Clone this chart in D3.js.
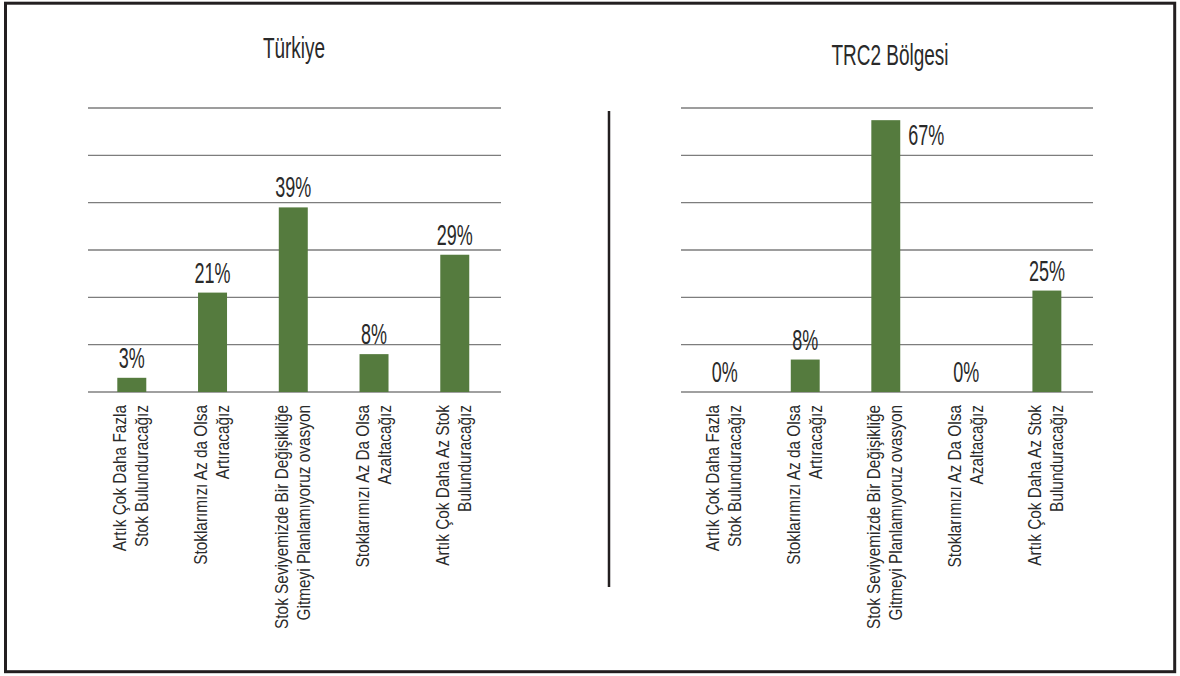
<!DOCTYPE html>
<html>
<head>
<meta charset="utf-8">
<script src="https://cdn.jsdelivr.net/npm/d3@7"></script>
<style>
  html, body { margin: 0; padding: 0; background: #ffffff; }
  svg { display: block; }
  text { font-family: "Liberation Sans", Arial, sans-serif; fill: #2a2a2a; }
</style>
</head>
<body>
<svg id="chart" width="1180" height="676"></svg>
<script>
// ---- data ----
const categoryLines = [
  ["Artık Çok Daha Fazla", "Stok Bulunduracağız"],
  ["Stoklarımızı Az da Olsa", "Artıracağız"],
  ["Stok Seviyemizde Bir Değişikliğe", "Gitmeyi Planlamıyoruz ovasyon"],
  ["Stoklarımızı Az Da Olsa", "Azaltacağız"],
  ["Artık Çok Daha Az Stok", "Bulunduracağız"]
];
const categories = categoryLines.map(l => l.join(" "));
const panelTitles = ["Türkiye", "TRC2 Bölgesi"];
const turkiyeValues = [3, 21, 39, 8, 29];
const trc2Values = [0, 8, 67, 0, 25];
const axisMax = [60, 70];
const gridCount = 6;

// ---- layout ----
const svg = d3.select("#chart");

svg.append("rect")
  .attr("x", 5.5).attr("y", 3.2)
  .attr("width", 1169.2).attr("height", 668.5)
  .attr("fill", "none").attr("stroke", "#231f20").attr("stroke-width", 3);

// divider
svg.append("line")
  .attr("x1", 609).attr("x2", 609)
  .attr("y1", 111).attr("y2", 587)
  .attr("stroke", "#231f20").attr("stroke-width", 2.5);

const panels = [
  { title: panelTitles[0], values: turkiyeValues, x0: 88, x1: 501, titleX: 294, titleY: 58, max: axisMax[0] },
  { title: panelTitles[1], values: trc2Values, x0: 681, x1: 1093, titleX: 890, titleY: 65, max: axisMax[1] }
];
const yTop = 108, yBase = 392;

function condensedText(sel, x, y, sx, size, anchor, str, rot) {
  return sel.append("text")
    .attr("transform", `translate(${x},${y})` + (rot ? ` rotate(${rot})` : "") + ` scale(${sx},1)`)
    .attr("font-size", size)
    .attr("text-anchor", anchor)
    .text(str);
}

panels.forEach(p => {
  const g = svg.append("g");
  const x = d3.scaleBand().domain(categories).range([p.x0, p.x1])
    .paddingInner(0.641).paddingOuter(0.378).align(0.48);
  const y = d3.scaleLinear().domain([0, p.max]).range([yBase, yTop]);

  // gridlines
  const gridVals = d3.range(gridCount + 1).map(i => p.max * i / gridCount);
  g.selectAll("line.grid").data(gridVals.slice(1)).join("line")
    .attr("class", "grid")
    .attr("x1", p.x0).attr("x2", p.x1)
    .attr("y1", d => y(d)).attr("y2", d => y(d))
    .attr("stroke", "#7d7d7d").attr("stroke-width", 1.4);
  // baseline
  g.append("line")
    .attr("x1", p.x0).attr("x2", p.x1)
    .attr("y1", y(0)).attr("y2", y(0))
    .attr("stroke", "#a0a0a0").attr("stroke-width", 2);

  // bars
  g.selectAll("rect.bar").data(p.values).join("rect")
    .attr("class", "bar")
    .attr("x", (d, i) => x(categories[i]))
    .attr("width", x.bandwidth())
    .attr("y", d => y(d))
    .attr("height", d => y(0) - y(d))
    .attr("fill", "#557b3e");

  // value labels
  p.values.forEach((v, i) => {
    const cx = x(categories[i]) + x.bandwidth() / 2;
    const top = y(v);
    const labelH = 22;
    if (top - 10 - labelH < yTop) {
      condensedText(g, x(categories[i]) + x.bandwidth() + 8, top + 25, 0.6, 30, "start", v + "%");
    } else {
      condensedText(g, cx, top - 10, 0.6, 30, "middle", v + "%");
    }
  });

  // category labels (rotated, two lines, right-aligned at top)
  categoryLines.forEach((lines, i) => {
    const cx = x(categories[i]) + x.bandwidth() / 2;
    lines.forEach((ln, j) => {
      condensedText(g, cx - 5.5 + j * 22, 405, 0.855, 18, "end", ln, -90);
    });
  });

  // title
  condensedText(g, p.titleX, p.titleY, 0.655, 29, "middle", p.title);
});
</script>
</body>
</html>
